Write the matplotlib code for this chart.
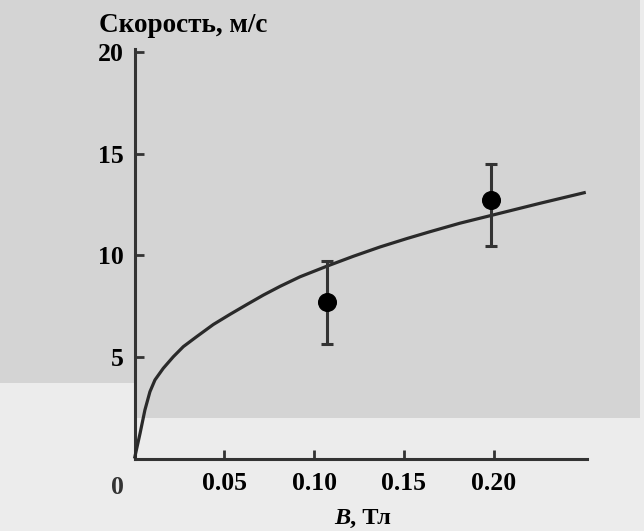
import matplotlib
matplotlib.use("Agg")
import matplotlib.pyplot as plt
from matplotlib.patches import Polygon

# ---- data ----
curve_B = [0, 0.0031, 0.0058, 0.0086, 0.0114, 0.0160, 0.0216, 0.0272, 0.0346,
           0.0439, 0.0532, 0.0625, 0.0718, 0.0811, 0.0922, 0.1071, 0.1219,
           0.1368, 0.1516, 0.1646, 0.1813, 0.1986, 0.2259, 0.2514]
curve_v = [0, 1.24, 2.39, 3.29, 3.87, 4.44, 5.01, 5.51, 6.00,
           6.60, 7.10, 7.58, 8.05, 8.48, 8.95, 9.47, 9.96,
           10.42, 10.83, 11.17, 11.59, 11.97, 12.57, 13.11]

pts_B = [0.1071, 0.1986]
pts_v = [7.72, 12.73]
pts_err_low = [2.08, 2.25]
pts_err_high = [2.01, 1.77]

xticks = [0.05, 0.10, 0.15, 0.20]
xtick_labels = ["0.05", "0.10", "0.15", "0.20"]
yticks = [5, 10, 15, 20]
ytick_labels = ["5", "10", "15", "20"]

W, H = 644, 531
fig = plt.figure(figsize=(W / 100, H / 100), dpi=100)
fig.patch.set_facecolor("#ececec")

# scanned-page gray background
def px(x, y):
    return (x / W, 1 - y / H)

bg = Polygon([px(0, 0), px(640, 0), px(640, 418), px(135, 418), px(135, 383),
              px(0, 383)], closed=True, transform=fig.transFigure,
             facecolor="#d4d4d4", edgecolor="none", zorder=-10)
fig.patches.append(bg)

serif = ["Liberation Serif", "DejaVu Serif"]
plt.rcParams["font.family"] = serif

ax = fig.add_axes([134.5 / W, 1 - 458.5 / H, (586.5 - 134.5) / W, (458.5 - 49) / H])
ax.set_zorder(1)
ax.set_facecolor("none")
ax.set_xlim(0, 0.2518)
ax.set_ylim(0, 20.17)

ink = "#2a2a2a"
for s in ["top", "right"]:
    ax.spines[s].set_visible(False)
for s in ["left", "bottom"]:
    ax.spines[s].set_linewidth(2.2)
    ax.spines[s].set_color("#333333")

ax.set_xticks(xticks)
ax.set_xticklabels(xtick_labels)
ax.set_yticks(yticks)
ax.set_yticklabels(ytick_labels)
ax.tick_params(axis="both", direction="in", length=6.5, width=2.0, color="#333333",
               labelsize=18.5, labelcolor="black")
ax.tick_params(axis="x", pad=10)
ax.tick_params(axis="y", pad=7.5)
for lab in ax.get_xticklabels() + ax.get_yticklabels():
    lab.set_fontweight("bold")

ax.plot(curve_B, curve_v, color=ink, lw=2.3, solid_joinstyle="round",
        solid_capstyle="butt", zorder=3, clip_on=False)
ax.errorbar(pts_B, pts_v, yerr=[pts_err_low, pts_err_high], fmt="o",
            color="black", ms=12.7, ecolor="#333333", elinewidth=2.2,
            capsize=4.0, capthick=2.2, zorder=4)

# "0" at the origin
fig.text(117.5 / W, 1 - 487 / H, "0", ha="center", va="center", fontsize=18.5,
         fontweight="bold", color="#333333")

# axis titles
fig.text(99 / W, 1 - 32 / H, "Скорость, м/с", ha="left", va="baseline",
         fontsize=19.5, fontweight="bold", color="black")
fig.text(350 / W, 1 - 524 / H, "B", ha="right", va="baseline", fontsize=17.5,
         fontweight="bold", fontstyle="italic", color="black")
fig.text(350 / W, 1 - 524 / H, ", Тл", ha="left", va="baseline", fontsize=17.5,
         fontweight="bold", color="black")

fig.savefig("out.png", dpi=100, facecolor=fig.get_facecolor())
